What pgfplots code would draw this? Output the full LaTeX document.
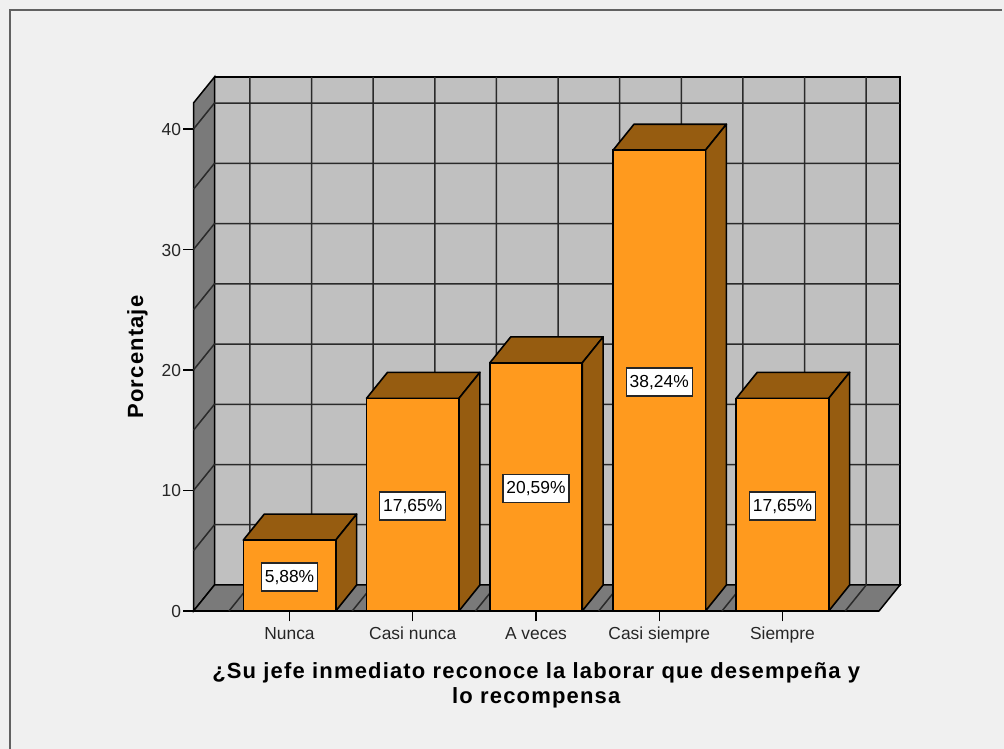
\documentclass[border=0pt]{standalone}
\usepackage{fontspec}
\setmainfont{Liberation Sans}
\newfontfamily\titlefont[LetterSpace=5.3]{Liberation Sans}
\usepackage{pgfplots}
\pgfplotsset{compat=1.18}
\definecolor{panelbg}{HTML}{F0F0F0}
\definecolor{wall}{HTML}{C0C0C0}
\definecolor{floorc}{HTML}{7A7A7A}
\definecolor{barfront}{HTML}{FF9A1E}
\definecolor{bardark}{HTML}{965C10}
\definecolor{gridc}{HTML}{2A2A2A}
\pgfplotsset{
    wallline/.style={draw=gridc, line width=1.5pt, forget plot},
    barface/.style={fill=bardark, draw=black, line width=1.6pt, line join=round, forget plot},
}
\begin{document}
\begin{tikzpicture}[x=1pt,y=1pt]
    \path[use as bounding box] (0,0) rectangle (1004,749);
    \fill[panelbg] (0,0) rectangle (1004,749);
    % window frame, top and left only
    \draw[color=black!62, line width=1.6pt] (10,0) -- (10,739) -- (1002,739);
    \begin{axis}[
        at={(193.5pt,138pt)},
        anchor=south west,
        scale only axis,
        width=685.5pt,
        height=508pt,
        xmin=-0.7789, xmax=4.783,
        ymin=0, ymax=42.16,
        clip=false,
        axis lines=left,
        axis line style={-, black, line width=1.6pt},
        xtick={0,1,2,3,4},
        xticklabels={Nunca,Casi nunca,A veces,Casi siempre,Siempre},
        ytick={0,10,20,30,40},
        tick align=outside,
        major tick length=10.5pt,
        tick style={black, line width=1.3pt},
        tick label style={font=\fontsize{17.4}{19}\selectfont, color=black!85},
        /pgf/number format/assume math mode=true,
        xticklabel style={yshift=-2pt},
        yticklabel style={xshift=1.5pt, yshift=-0.5pt},
        xlabel={¿Su jefe inmediato reconoce la laborar que desempeña y\\lo recompensa},
        xlabel style={font=\fontsize{22}{25}\selectfont\titlefont\bfseries, align=center, yshift=-12.5pt},
        ylabel={Porcentaje},
        ylabel style={font=\fontsize{22}{25}\selectfont\titlefont\bfseries, yshift=7pt},
    ]
    % back wall, side wall, floor
    \addplot[fill=wall, draw=black, line width=1.5pt, forget plot] coordinates {(-0.6085,2.158) (4.9534,2.158) (4.9534,44.318) (-0.6085,44.318)} --cycle;
    \addplot[fill=floorc, draw=black, line width=1.5pt, forget plot] coordinates {(-0.7789,0) (-0.6085,2.158) (-0.6085,44.318) (-0.7789,42.16)} --cycle;
    \addplot[fill=floorc, draw=black, line width=1.5pt, forget plot] coordinates {(-0.7789,0) (4.783,0) (4.9534,2.158) (-0.6085,2.158)} --cycle;
    % horizontal wall lines, every 5, with their diagonal on the side wall
    \addplot[wallline] coordinates {(-0.7789,5) (-0.6085,7.158) (4.9534,7.158)};
    \addplot[wallline] coordinates {(-0.7789,10) (-0.6085,12.158) (4.9534,12.158)};
    \addplot[wallline] coordinates {(-0.7789,15) (-0.6085,17.158) (4.9534,17.158)};
    \addplot[wallline] coordinates {(-0.7789,20) (-0.6085,22.158) (4.9534,22.158)};
    \addplot[wallline] coordinates {(-0.7789,25) (-0.6085,27.158) (4.9534,27.158)};
    \addplot[wallline] coordinates {(-0.7789,30) (-0.6085,32.158) (4.9534,32.158)};
    \addplot[wallline] coordinates {(-0.7789,35) (-0.6085,37.158) (4.9534,37.158)};
    \addplot[wallline] coordinates {(-0.7789,40) (-0.6085,42.158) (4.9534,42.158)};
    % vertical wall lines running on over the floor
    \addplot[wallline] coordinates {(-0.4909,0) (-0.3205,2.158) (-0.3205,44.318)};
    \addplot[wallline] coordinates {(0.0091,0) (0.1795,2.158) (0.1795,44.318)};
    \addplot[wallline] coordinates {(0.5091,0) (0.6795,2.158) (0.6795,44.318)};
    \addplot[wallline] coordinates {(1.0091,0) (1.1795,2.158) (1.1795,44.318)};
    \addplot[wallline] coordinates {(1.5091,0) (1.6795,2.158) (1.6795,44.318)};
    \addplot[wallline] coordinates {(2.0091,0) (2.1795,2.158) (2.1795,44.318)};
    \addplot[wallline] coordinates {(2.5091,0) (2.6795,2.158) (2.6795,44.318)};
    \addplot[wallline] coordinates {(3.0091,0) (3.1795,2.158) (3.1795,44.318)};
    \addplot[wallline] coordinates {(3.5091,0) (3.6795,2.158) (3.6795,44.318)};
    \addplot[wallline] coordinates {(4.0091,0) (4.1795,2.158) (4.1795,44.318)};
    \addplot[wallline] coordinates {(4.5091,0) (4.6795,2.158) (4.6795,44.318)};

    % bars: top and side faces
    \addplot[barface] coordinates {(-0.375,5.88) (0.375,5.88) (0.545,8.038) (-0.205,8.038)} --cycle;
    \addplot[barface] coordinates {(0.375,0) (0.375,5.88) (0.545,8.038) (0.545,2.158)} --cycle;
    \addplot[barface] coordinates {(0.625,17.65) (1.375,17.65) (1.545,19.808) (0.795,19.808)} --cycle;
    \addplot[barface] coordinates {(1.375,0) (1.375,17.65) (1.545,19.808) (1.545,2.158)} --cycle;
    \addplot[barface] coordinates {(1.625,20.59) (2.375,20.59) (2.545,22.748) (1.795,22.748)} --cycle;
    \addplot[barface] coordinates {(2.375,0) (2.375,20.59) (2.545,22.748) (2.545,2.158)} --cycle;
    \addplot[barface] coordinates {(2.625,38.24) (3.375,38.24) (3.545,40.398) (2.795,40.398)} --cycle;
    \addplot[barface] coordinates {(3.375,0) (3.375,38.24) (3.545,40.398) (3.545,2.158)} --cycle;
    \addplot[barface] coordinates {(3.625,17.65) (4.375,17.65) (4.545,19.808) (3.795,19.808)} --cycle;
    \addplot[barface] coordinates {(4.375,0) (4.375,17.65) (4.545,19.808) (4.545,2.158)} --cycle;

    % bars: front faces
    \addplot[ybar, bar width=92.4pt, fill=barfront, draw=black, line width=1.6pt, forget plot]
        coordinates {(0,5.88) (1,17.65) (2,20.59) (3,38.24) (4,17.65)};

    % value boxes at half height of each bar
    \addplot[draw=none, mark=none, forget plot, point meta=explicit symbolic,
        nodes near coords={\pgfplotspointmeta\%},
        every node near coord/.append style={anchor=center, fill=white, draw=black!85,
            line width=1.4pt, font=\fontsize{17.4}{19}\selectfont, inner xsep=3.5pt,
            minimum height=28pt, text=black, yshift=-1.5pt},
    ] table[x=x, y=y, meta=label] {
        x y label
        0 2.94 5,88
        1 8.825 17,65
        2 10.295 20,59
        3 19.12 38,24
        4 8.825 17,65
    };
    \end{axis}
\end{tikzpicture}
\end{document}
